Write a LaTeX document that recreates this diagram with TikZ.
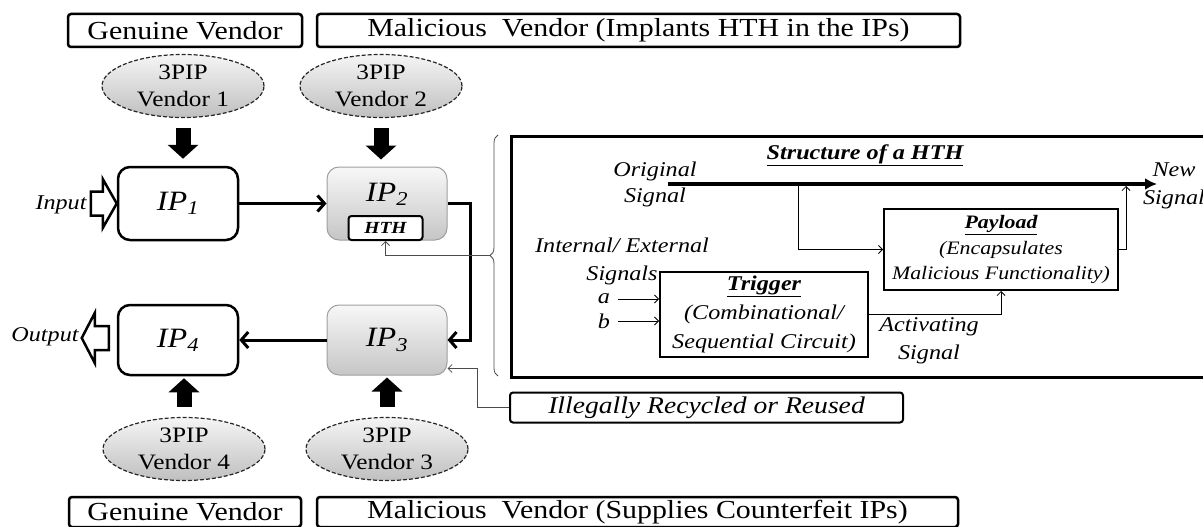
\documentclass[tikz,border=0pt]{standalone}
\usepackage{fontspec}
\setmainfont{Liberation Serif}[FakeStretch=1.15]
\usetikzlibrary{calc,shapes.geometric,arrows.meta,decorations.pathreplacing}

\begin{document}
\begin{tikzpicture}[x=1pt,y=-1pt,
  vbox/.style={draw,line width=2.5pt,rounded corners=3pt,inner sep=0pt,minimum height=33pt,font=\fontsize{26}{30}\selectfont},
  vendor/.style={ellipse,draw=black!85,dash pattern=on 4pt off 2pt,line width=1.2pt,top color=gray!8,bottom color=gray!50,minimum width=162pt,minimum height=63pt,inner sep=0pt,align=center,font=\fontsize{22}{27}\selectfont},
  ipfont/.style={font=\fontsize{28}{30}\selectfont\itshape},
  ipw/.style={draw,line width=2.5pt,rounded corners=12pt,fill=white,minimum width=120pt,inner sep=0pt,ipfont},
  ipg/.style={draw=gray!75,line width=1pt,rounded corners=12pt,top color=gray!6,bottom color=gray!45,minimum width=120pt,inner sep=0pt,ipfont},
  hthbox/.style={draw,line width=2pt,rounded corners=3pt,fill=white,minimum width=74pt,minimum height=24pt,inner sep=0pt,font=\fontsize{17}{19}\selectfont\bfseries\itshape},
  itf/.style={align=center,inner sep=0pt,font=\fontsize{21}{26}\selectfont\itshape},
  blockbox/.style={draw,line width=2pt,align=center,inner sep=0pt,font=\fontsize{20}{27}\selectfont\itshape},
  fat/.style={line width=15pt,-{Triangle[length=14pt,width=30pt]}},
  thk/.style={line width=3pt,-{Straight Barb[length=7pt,width=16pt]}},
  thn/.style={line width=0.8pt,-{Straight Barb[length=4pt,width=8pt]}},
  sig/.style={line width=3.5pt,-{Latex[length=12pt,width=12pt]}},
  outarr/.style={draw,line width=2.5pt,fill=white,line join=miter}]
%
\clip (0,0) rectangle (1203,527);
%
% vendor labels
\node[vbox,minimum width=234pt] (gvt) at (185,30.5) {Genuine Vendor};
\node[vbox,minimum width=643pt] (mvt) at (638.5,30.5) {Malicious~~Vendor (Implants HTH in the IPs)};
\node[vbox,minimum width=232pt,minimum height=30pt] (gvb) at (185,512) {Genuine Vendor};
\node[vbox,minimum width=641pt,minimum height=30pt] (mvb) at (637.5,512) {Malicious~~Vendor (Supplies Counterfeit IPs)};
%
% 3PIP vendors
\node[vendor] (v1) at (183,86) {3PIP\\Vendor 1};
\node[vendor] (v2) at (381,86) {3PIP\\Vendor 2};
\node[vendor] (v4) at (184,449) {3PIP\\Vendor 4};
\node[vendor] (v3) at (387,449) {3PIP\\Vendor 3};
%
% IP blocks
\node[ipw,minimum height=73pt] (ip1) at (178,203.5) {IP\textsubscript{1}};
\node[ipg,minimum height=73pt,label={[ipfont,yshift=9pt]center:IP\textsubscript{2}}] (ip2) at (387,203.5) {};
\node[hthbox] (hth) at (385.5,228) {HTH};
\node[ipg,minimum height=70pt] (ip3) at (387,340) {IP\textsubscript{3}};
\node[ipw,minimum height=70pt] (ip4) at (178,340) {IP\textsubscript{4}};
%
\draw[fat,shorten <=10pt,shorten >=7pt](v1.south)--(v1.south|-ip1.north);
\draw[fat,shorten <=10pt,shorten >=7pt](v2.south)--(v2.south|-ip2.north);
\draw[fat,shorten <=10pt,shorten >=2pt](v4.north)--(v4.north|-ip4.south);
\draw[fat,shorten <=10pt,shorten >=2pt](v3.north)--(v3.north|-ip3.south);
%
\draw[thk](ip1)--(ip2);
\draw[thk](ip2.east)--++(23,0)|-(ip3.east);
\draw[thk](ip3)--(ip4);
%
% input / output
\draw[outarr](ip1.west)--++(-14,-24.5)--++(0,12.5)--++(-12,0)--++(0,24)--++(12,0)--++(0,12.5)--cycle;
\node[itf] (inl) at (61,205) {Input};
\draw[outarr]($(ip4.west)+(-35,-2)$)--++(13,-25)--++(0,13)--++(14,0)--++(0,24)--++(-14,0)--++(0,13)--cycle;
\node[itf] (outl) at (45,337) {Output};
%
% structure of a HTH
\node[draw,line width=2.5pt,minimum width=710pt,minimum height=241pt,anchor=north west,inner sep=0pt] (sbox) at (510,135) {};
\node[itf,font=\fontsize{21}{26}\selectfont\bfseries\itshape] (ttl) at (865,155) {\underline{Structure of a HTH}};
\node[itf] (orig) at (655,184) {Original\\Signal};
\node[itf,font=\fontsize{21}{28}\selectfont\itshape] (nsig) at (1174,186) {New\\Signal};
\coordinate (os) at (668,184);
\coordinate (se) at (1157,184);
\coordinate (tap) at (798,184);
\coordinate (join) at (1126,184);
\draw[sig](os)--(se);
%
\node[blockbox,minimum width=234pt,minimum height=81pt,font=\fontsize{19}{25.5}\selectfont\itshape] (pay) at (1001,249.5)
  {\textbf{\underline{Payload}}\\(Encapsulates\\Malicious Functionality)};
\node[blockbox,minimum width=208pt,minimum height=85pt,font=\fontsize{21}{29}\selectfont\itshape] (trg) at (764,314)
  {\textbf{\underline{Trigger}}\\(Combinational/\\Sequential Circuit)};
\node[itf,font=\fontsize{21}{28}\selectfont\itshape] (ies) at (622,261) {Internal/ External\\Signals};
\node[itf] (na) at (604,299) {a};
\node[itf] (nb) at (604,321) {b};
\node[itf,font=\fontsize{21}{28}\selectfont\itshape] (act) at (929,341) {Activating\\Signal};
%
\draw[thn](tap)|-(pay.west);
\draw[thn,shorten >=2pt](pay.east)-|(join);
\draw[thn](trg.east)-|(pay.south);
\draw[thn,shorten <=8pt](na.east)--(na.east-|trg.west);
\draw[thn,shorten <=8pt](nb.east)--(nb.east-|trg.west);
%
% brace to the trojan
\draw[black!70,line width=0.8pt,decorate,decoration={brace,amplitude=8pt}](498,376)--(498,135);
\coordinate (bt) at (490,255.5);
\draw[thn,black!70](bt)-|(hth.south);
%
% recycled IP
\node[blockbox,rounded corners=3pt,minimum width=393pt,minimum height=30pt,font=\fontsize{24}{26}\selectfont\itshape] (ill) at (706.5,407.5) {Illegally Recycled or Reused};
\draw[thn,black!70](ill.west)--++(-32,0)|-([yshift=7pt]ip3.south east);
%
\end{tikzpicture}
\end{document}
